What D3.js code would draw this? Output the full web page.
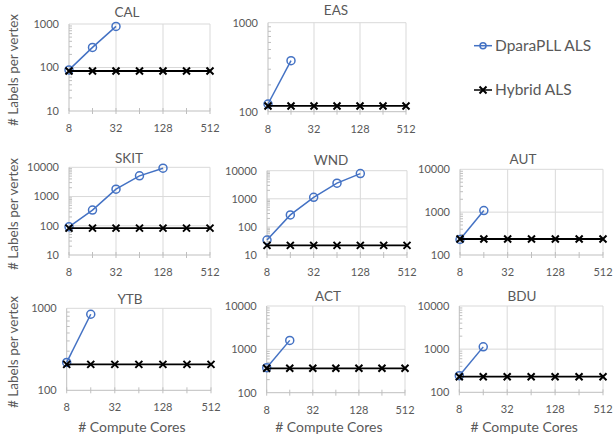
<!DOCTYPE html>
<html>
<head>
<meta charset="utf-8">
<script src="https://cdn.jsdelivr.net/npm/d3@7"></script>
<style>
  body { margin: 0; background: #fff; }
  text { font-family: Lato, "Open Sans", sans-serif; fill: #595959; }
</style>
</head>
<body>
<div id="chart"></div>
<script>
// x values (compute cores) and labelled ticks
var cores = [8, 16, 32, 64, 128, 256, 512];
var coreTicks = [8, 32, 128, 512];

// DparaPLL ALS (only a few core counts finished)
var dparaCAL = [88, 290, 880];
var dparaEAS = [122, 374];
var dparaSKIT = [92, 343, 1780, 5100, 9300];
var dparaWND = [34, 267, 1130, 3600, 7900];
var dparaAUT = [230, 1090];
var dparaYTB = [219, 846];
var dparaACT = [378, 1610];
var dparaBDU = [243, 1130];

// Hybrid ALS
var hybridCAL = [83, 83, 83, 83, 83, 83, 83];
var hybridEAS = [116, 116, 116, 116, 116, 116, 116];
var hybridSKIT = [83, 83, 83, 83, 83, 83, 83];
var hybridWND = [22, 22, 22, 22, 22, 22, 22];
var hybridAUT = [236, 236, 236, 236, 236, 236, 236];
var hybridYTB = [207, 207, 207, 207, 207, 207, 207];
var hybridACT = [365, 365, 365, 365, 365, 365, 365];
var hybridBDU = [230, 230, 230, 230, 230, 230, 230];

var seriesNames = ["DparaPLL ALS", "Hybrid ALS"];
var yLabel = "# Labels per vertex";
var xLabel = "# Compute Cores";

var blue = "#4472C4";

var panels = [
  {name: "CAL", dpara: dparaCAL, hybrid: hybridCAL, domain: [10, 1000], x0: 69, x1: 210, y0: 24, y1: 111, tx: 127, ty: 12},
  {name: "EAS", dpara: dparaEAS, hybrid: hybridEAS, domain: [100, 1000], x0: 268, x1: 406, y0: 22.7, y1: 111.7, tx: 336, ty: 10.5},
  {name: "SKIT", dpara: dparaSKIT, hybrid: hybridSKIT, domain: [10, 10000], x0: 69, x1: 210, y0: 167.3, y1: 255, tx: 129, ty: 158.5},
  {name: "WND", dpara: dparaWND, hybrid: hybridWND, domain: [10, 10000], x0: 267, x1: 407, y0: 170.7, y1: 255, tx: 331, ty: 160.5},
  {name: "AUT", dpara: dparaAUT, hybrid: hybridAUT, domain: [100, 10000], x0: 460, x1: 603, y0: 169.3, y1: 255, tx: 523, ty: 159},
  {name: "YTB", dpara: dparaYTB, hybrid: hybridYTB, domain: [100, 1000], x0: 66.7, x1: 211, y0: 308.3, y1: 390.3, tx: 130, ty: 299, bottom: true},
  {name: "ACT", dpara: dparaACT, hybrid: hybridACT, domain: [100, 10000], x0: 266.7, x1: 405, y0: 306, y1: 392.7, tx: 328, ty: 296, bottom: true},
  {name: "BDU", dpara: dparaBDU, hybrid: hybridBDU, domain: [100, 10000], x0: 459.3, x1: 603, y0: 306, y1: 392.3, tx: 522, ty: 296.5, bottom: true}
];

var svg = d3.select("#chart")
  .append("svg")
    .attr("width", 613)
    .attr("height", 435);

panels.forEach(function(p) {
  var x = d3.scaleLog().base(2).domain([8, 512]).range([p.x0, p.x1]);
  var y = d3.scaleLog().domain(p.domain).range([p.y1, p.y0]);
  var g = svg.append("g");

  var decades = y.ticks().filter(function(d) { return Math.log10(d) % 1 === 0; });
  var minors = y.ticks().filter(function(d) { return Math.log10(d) % 1 !== 0; });

  // gridlines
  g.selectAll(".hgrid")
    .data(decades.slice(1))
    .enter().append("line")
      .attr("x1", p.x0).attr("x2", p.x1)
      .attr("y1", function(d) { return y(d); })
      .attr("y2", function(d) { return y(d); })
      .attr("stroke", "#d9d9d9").attr("stroke-width", 1);
  g.selectAll(".vgrid")
    .data(coreTicks.slice(1))
    .enter().append("line")
      .attr("x1", function(d) { return x(d); })
      .attr("x2", function(d) { return x(d); })
      .attr("y1", p.y0).attr("y2", p.y1)
      .attr("stroke", "#d9d9d9").attr("stroke-width", 1);

  // minor ticks on y axis
  g.selectAll(".minor")
    .data(minors)
    .enter().append("line")
      .attr("x1", p.x0).attr("x2", p.x0 + 3)
      .attr("y1", function(d) { return y(d); })
      .attr("y2", function(d) { return y(d); })
      .attr("stroke", "#bfbfbf").attr("stroke-width", 1);

  // x tick marks
  g.selectAll(".xtick")
    .data(cores)
    .enter().append("line")
      .attr("x1", function(d) { return x(d); })
      .attr("x2", function(d) { return x(d); })
      .attr("y1", p.y1 - 3).attr("y2", p.y1 + 3)
      .attr("stroke", "#bfbfbf").attr("stroke-width", 1);

  // axis lines
  g.append("line")
    .attr("x1", p.x0).attr("x2", p.x0).attr("y1", p.y0).attr("y2", p.y1)
    .attr("stroke", "#bfbfbf");
  g.append("line")
    .attr("x1", p.x0).attr("x2", p.x1).attr("y1", p.y1).attr("y2", p.y1)
    .attr("stroke", "#bfbfbf");

  // tick labels
  g.selectAll(".ylab")
    .data(decades)
    .enter().append("text")
      .attr("x", p.x0 - 10)
      .attr("y", function(d) { return y(d); })
      .attr("dy", "0.35em")
      .attr("text-anchor", "end")
      .style("font-size", "11px")
      .text(function(d) { return d3.format("d")(d); });
  g.selectAll(".xlab")
    .data(coreTicks)
    .enter().append("text")
      .attr("x", function(d) { return x(d); })
      .attr("y", p.y1 + 17)
      .attr("dy", "0.35em")
      .attr("text-anchor", "middle")
      .style("font-size", "11px")
      .text(function(d) { return d; });

  // title
  g.append("text")
    .attr("x", p.tx).attr("y", p.ty)
    .attr("dy", "0.35em")
    .attr("text-anchor", "middle")
    .style("font-size", "13.5px")
    .text(p.name);

  if (p.bottom) {
    g.append("text")
      .attr("x", (p.x0 + p.x1) / 2 - 7).attr("y", 427)
      .attr("dy", "0.35em")
      .attr("text-anchor", "middle")
      .style("font-size", "14px")
      .text(xLabel);
  }

  // DparaPLL line + circles
  var dp = p.dpara.map(function(v, i) { return [cores[i], v]; });
  var hy = p.hybrid.map(function(v, i) { return [cores[i], v]; });
  var line = d3.line()
    .x(function(d) { return x(d[0]); })
    .y(function(d) { return y(d[1]); });

  g.append("path")
    .datum(dp)
    .attr("d", line)
    .attr("fill", "none").attr("stroke", blue).attr("stroke-width", 1.5);
  g.selectAll(".circ")
    .data(dp)
    .enter().append("circle")
      .attr("cx", function(d) { return x(d[0]); })
      .attr("cy", function(d) { return y(d[1]); })
      .attr("r", 4)
      .attr("fill", "none").attr("stroke", blue).attr("stroke-width", 1.5);

  // Hybrid line + x markers
  g.append("path")
    .datum(hy)
    .attr("d", line)
    .attr("fill", "none").attr("stroke", "#000").attr("stroke-width", 1.8);
  g.selectAll(".xm")
    .data(hy)
    .enter().append("path")
      .attr("d", function(d) {
        var cx = x(d[0]), cy = y(d[1]), s = 3.5;
        return "M" + (cx - s) + "," + (cy - s) + "L" + (cx + s) + "," + (cy + s) +
               "M" + (cx - s) + "," + (cy + s) + "L" + (cx + s) + "," + (cy - s);
      })
      .attr("stroke", "#000").attr("stroke-width", 2);
});

// y axis titles (one per row)
[70, 214, 352].forEach(function(cy) {
  svg.append("text")
    .attr("transform", "translate(13," + cy + ") rotate(-90)")
    .attr("dy", "0.35em")
    .attr("text-anchor", "middle")
    .style("font-size", "13.5px")
    .text(yLabel);
});

// legend
var legend = svg.append("g");
[45.7, 90].forEach(function(ly, i) {
  legend.append("line")
    .attr("x1", 474).attr("x2", 492).attr("y1", ly).attr("y2", ly)
    .attr("stroke", i === 0 ? blue : "#000").attr("stroke-width", 1.5);
  if (i === 0) {
    legend.append("circle")
      .attr("cx", 483).attr("cy", ly).attr("r", 3)
      .attr("fill", "none").attr("stroke", blue).attr("stroke-width", 1.5);
  } else {
    var s = 3.5;
    legend.append("path")
      .attr("d", "M" + (483 - s) + "," + (ly - s) + "L" + (483 + s) + "," + (ly + s) +
                 "M" + (483 - s) + "," + (ly + s) + "L" + (483 + s) + "," + (ly - s))
      .attr("stroke", "#000").attr("stroke-width", 2);
  }
  legend.append("text")
    .attr("x", 495).attr("y", ly)
    .attr("dy", "0.35em")
    .style("font-size", "15.5px")
    .text(seriesNames[i]);
});
</script>
</body>
</html>
